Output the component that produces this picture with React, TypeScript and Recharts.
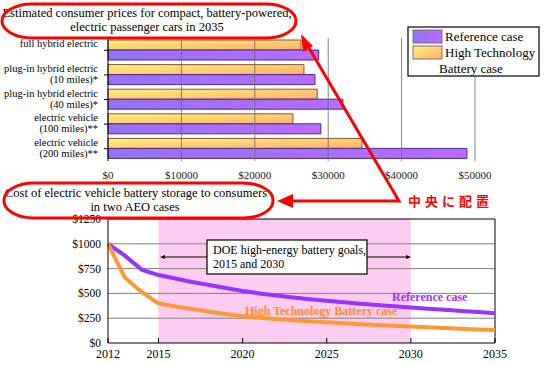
import {
  BarChart,
  Bar,
  XAxis,
  YAxis,
  LineChart,
  Line,
  ReferenceArea,
  ReferenceLine,
} from "recharts";

const SERIF = "Liberation Serif, Times New Roman, serif";

// top chart: 2035 car prices
const vehicleTypes = [
  "full hybrid electric",
  "plug-in hybrid electric\n(10 miles)*",
  "plug-in hybrid electric\n(40 miles)*",
  "electric vehicle\n(100 miles)**",
  "electric vehicle\n(200 miles)**",
];
const referencePrices = [28700, 28200, 32000, 29000, 48900];
const highTechPrices = [26300, 26700, 28500, 25200, 34600];
const priceTicks = [0, 10000, 20000, 30000, 40000, 50000];

// bottom chart: battery storage cost
const years = [
  2012, 2013, 2014, 2015, 2016, 2017, 2018, 2019, 2020, 2021, 2022, 2023,
  2024, 2025, 2026, 2027, 2028, 2029, 2030, 2031, 2032, 2033, 2034, 2035,
];
const referenceCost = [
  1000, 880, 740, 685, 650, 615, 585, 555, 525, 500, 478, 458, 440, 425, 410,
  396, 383, 370, 358, 346, 335, 323, 312, 300,
];
const highTechCost = [
  1000, 660, 515, 400, 368, 342, 316, 292, 270, 255, 241, 229, 218, 208, 199,
  190, 182, 174, 166, 158, 151, 144, 137, 130,
];
const yearTicks = [2012, 2015, 2020, 2025, 2030, 2035];
const costTicks = [0, 250, 500, 750, 1000, 1250];

const priceRows = vehicleTypes.map((name, i) => ({
  name,
  reference: referencePrices[i],
  highTech: highTechPrices[i],
}));

const costRows = years.map((year, i) => ({
  year,
  reference: referenceCost[i],
  highTech: highTechCost[i],
}));

function VehicleTick(props: any) {
  const { x, y, payload } = props;
  const lines = String(payload.value).split("\n");
  return (
    <g>
      {lines.map((t, i) => (
        <text
          key={i}
          x={x}
          y={y - 6.5 + i * 11}
          dy="0.35em"
          textAnchor="end"
          fontSize={10.5}
          fontFamily={SERIF}
          fill="#000"
        >
          {t}
        </text>
      ))}
    </g>
  );
}

function YearTick(props: any) {
  const { x, y, payload } = props;
  return (
    <g>
      <line x1={x} x2={x} y1={y - 6} y2={y - 11} stroke="#000" />
      <text
        x={x}
        y={y}
        dy="0.71em"
        textAnchor="middle"
        fontSize={12}
        fontFamily={SERIF}
        fill="#000"
      >
        {payload.value}
      </text>
    </g>
  );
}

function PriceChart() {
  return (
    <BarChart
      layout="vertical"
      width={547}
      height={195}
      data={priceRows}
      margin={{ top: 38, right: 72, bottom: 4, left: 0 }}
      barSize={10}
      barGap={0}
    >
      <XAxis
        type="number"
        domain={[0, 50000]}
        ticks={priceTicks}
        tickFormatter={(v) => "$" + v}
        axisLine={false}
        tickLine={false}
        tickSize={0}
        tickMargin={10}
        height={30}
        tick={{ fontSize: 11, fill: "#222", fontFamily: SERIF }}
      />
      <YAxis
        type="category"
        dataKey="name"
        width={108}
        interval={0}
        axisLine={{ stroke: "#000" }}
        tickLine={{ stroke: "#000" }}
        tickSize={4}
        tickMargin={6}
        tick={<VehicleTick />}
      />
      <Bar
        dataKey="highTech"
        fill="url(#orangeFill)"
        stroke="#7a5a3a"
        strokeWidth={1}
        isAnimationActive={false}
      />
      <Bar
        dataKey="reference"
        fill="url(#purpleFill)"
        stroke="#4a2a80"
        strokeWidth={1}
        isAnimationActive={false}
      />
      {priceTicks.slice(1).map((v) => (
        <ReferenceLine key={v} x={v} stroke="#6f6f6f" strokeOpacity={0.85} />
      ))}
    </BarChart>
  );
}

function CostChart() {
  return (
    <LineChart
      width={547}
      height={166}
      data={costRows}
      margin={{ top: 19, right: 52, bottom: 3, left: 0 }}
    >
      <XAxis
        dataKey="year"
        type="number"
        domain={[2012, 2035]}
        ticks={yearTicks}
        axisLine={{ stroke: "#000" }}
        tickLine={false}
        tickSize={0}
        tickMargin={6}
        height={20}
        tick={<YearTick />}
      />
      <YAxis
        domain={[0, 1250]}
        ticks={costTicks}
        width={108}
        axisLine={{ stroke: "#000" }}
        tickLine={false}
        tickSize={0}
        tickMargin={7}
        tickFormatter={(v) => "$" + v}
        tick={{ fontSize: 11.5, fill: "#000", fontFamily: SERIF }}
      />
      <ReferenceArea
        x1={2015}
        x2={2030}
        y1={0}
        y2={1250}
        fill="#fdcdf1"
        fillOpacity={1}
        stroke="none"
      />
      {costTicks.slice(1, 5).map((v) => (
        <ReferenceLine key={v} y={v} stroke="#808080" />
      ))}
      <ReferenceLine y={1250} stroke="#000" />
      <ReferenceLine x={2035} stroke="#000" />
      <Line
        type="linear"
        dataKey="reference"
        stroke="#9933ff"
        strokeWidth={4}
        dot={false}
        isAnimationActive={false}
      />
      <Line
        type="linear"
        dataKey="highTech"
        stroke="#ff9933"
        strokeWidth={4}
        dot={false}
        isAnimationActive={false}
      />
    </LineChart>
  );
}

function Overlay() {
  return (
    <svg
      width={547}
      height={366}
      style={{ position: "absolute", left: 0, top: 0, pointerEvents: "none" }}
    >
      <defs>
        <linearGradient id="purpleFill" x1="0" y1="0" x2="1" y2="0">
          <stop offset="0" stopColor="#9372f5" />
          <stop offset="1" stopColor="#b86cff" />
        </linearGradient>
        <linearGradient id="orangeFill" x1="0" y1="0" x2="1" y2="1">
          <stop offset="0" stopColor="#fff07c" />
          <stop offset="1" stopColor="#ffb06a" />
        </linearGradient>
      </defs>

      {/* legend of the price chart */}
      <rect x={408} y={27} width={131} height={49} fill="#fff" stroke="#000" strokeWidth={1.2} />
      <rect x={413} y={30} width={29} height={13} fill="url(#purpleFill)" stroke="#777" />
      <rect x={413} y={46} width={29} height={13} fill="url(#orangeFill)" stroke="#777" />
      <g fontFamily={SERIF} fontSize={13} fill="#000">
        <text x={445} y={36.5} dy="0.35em">Reference case</text>
        <text x={445} y={52.5} dy="0.35em">High Technology</text>
        <text x={439} y={68.5} dy="0.35em">Battery case</text>
      </g>

      {/* titles */}
      <g fontFamily={SERIF} fontSize={12.5} fill="#000" textAnchor="middle">
        <text x={147} y={13} dy="0.35em">Estimated consumer prices for compact, battery-powered,</text>
        <text x={147} y={27} dy="0.35em">electric passenger cars in 2035</text>
        <text x={136} y={193} dy="0.35em">Cost of electric vehicle battery storage to consumers</text>
        <text x={135} y={207} dy="0.35em">in two AEO cases</text>
      </g>

      {/* DOE goals annotation */}
      <line x1={162} x2={409} y1={257} y2={257} stroke="#000" strokeWidth={1} />
      <path d="M160,257 L165,255 L165,259 Z" fill="#000" />
      <path d="M411,257 L406,255 L406,259 Z" fill="#000" />
      <rect x={207} y={240} width={160} height={34} fill="#fff" stroke="#000" strokeWidth={1.2} />
      <g fontFamily={SERIF} fontSize={12} fill="#000">
        <text x={213} y={250} dy="0.35em">DOE high-energy battery goals,</text>
        <text x={213} y={264} dy="0.35em">2015 and 2030</text>
      </g>

      {/* series labels */}
      <g fontFamily={SERIF} fontSize={12} fontWeight="bold">
        <text x={392} y={297} dy="0.35em" fill="#9933ff">Reference case</text>
        <text x={245} y={311} dy="0.35em" fill="#ff8c26">High Technology Battery case</text>
      </g>

      {/* red call-outs */}
      <g fill="none" stroke="#ff0000" strokeWidth={3}>
        <rect x={2} y={4} width={294} height={34} rx={30} ry={17} />
        <rect x={4} y={183} width={269} height={35} rx={30} ry={17} />
        <polyline points="309,48 399,201 292,201" strokeLinejoin="miter" />
      </g>
      <path d="M301,34 L313,46 L303,52 Z" fill="#ff0000" />
      <path d="M277,201 L293,194 L293,208 Z" fill="#ff0000" />
      <text
        x={408}
        y={201}
        dy="0.35em"
        fontFamily="Noto Sans CJK JP, sans-serif"
        fontWeight="bold"
        fontSize={13}
        letterSpacing={4}
        fill="#ff0000"
      >
        中央に配置
      </text>
    </svg>
  );
}

export default function App() {
  return (
    <div
      style={{
        position: "absolute",
        left: 0,
        top: 0,
        width: 547,
        height: 366,
        background: "#fff",
        overflow: "hidden",
        fontFamily: SERIF,
      }}
    >
      <div style={{ position: "absolute", left: 0, top: 0 }}>
        <PriceChart />
      </div>
      <div style={{ position: "absolute", left: 0, top: 200 }}>
        <CostChart />
      </div>
      <Overlay />
    </div>
  );
}
